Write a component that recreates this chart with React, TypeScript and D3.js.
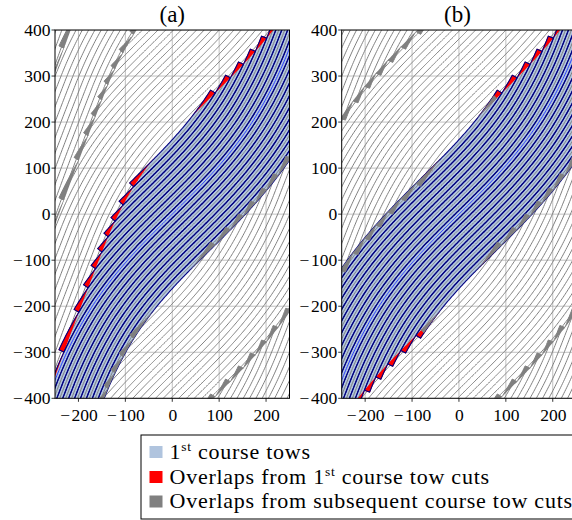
import React from 'react';
import * as d3 from 'd3';

// ---------- data ----------
const panelTitles = ['(a)', '(b)'];
const xTicks = [-200, -100, 0, 100, 200];
const yTicks = [-400, -300, -200, -100, 0, 100, 200, 300, 400];
const xDomain = [-250, 250];
const yDomain = [-400, 400];
// fiber angle (deg, from x axis) of the reference path versus |x|
const angleStations = [0, 50, 100, 150, 200, 250, 300, 350, 460];
const fiberAngleDeg = [45, 46, 49.3, 54.5, 61.8, 69, 69.5, 70.5, 72];
const courseIndices = [-4, -3, -2, -1, 0, 1, 2, 3, 4];
const towsPerCourse = 19;
const towWidth = 11.8;
const courseShift = 330;
// cut rule per panel: 'upper' = tows always cut on the upper-left side, 'sym' = point-symmetric cuts
const cutRules = ['upper', 'sym'];
const legendLabels = [
  ['1', 'st', ' course tows'],
  ['Overlaps from 1', 'st', ' course tow cuts'],
  ['Overlaps from subsequent course tow cuts', '', ''],
];
const legendColors = ['#b0c4de', '#ff0000', '#808080'];

// ---------- layout ----------
const WIDTH = 572;
const HEIGHT = 520;
const panelsPx = [
  { x0: 55, x1: 289.5 },
  { x0: 341.7, x1: 576.2 },
];
const plotTop = 30;
const plotBottom = 398.3;
const FONT = "'Liberation Serif', 'DejaVu Serif', serif";

// ---------- geometry ----------
const STEP = 1;
const XMAX = 460;
const X0 = d3.range(-XMAX, XMAX + 1e-9, STEP);
const N = X0.length;
const IMID = Math.round(XMAX / STEP);
const angleScale = d3.scaleLinear().domain(angleStations).range(fiberAngleDeg).clamp(true);
const TH = X0.map((x) => (angleScale(Math.abs(x)) * Math.PI) / 180);
const F: number[] = new Array(N).fill(0);
for (let i = IMID + 1; i < N; i++) F[i] = F[i - 1] + 0.5 * (Math.tan(TH[i - 1]) + Math.tan(TH[i])) * STEP;
for (let i = IMID - 1; i >= 0; i--) F[i] = F[i + 1] - 0.5 * (Math.tan(TH[i + 1]) + Math.tan(TH[i])) * STEP;
const HALF = (towsPerCourse * towWidth) / 2;

function at(fi: number) {
  const i = Math.max(0, Math.min(N - 2, Math.floor(fi)));
  const t = fi - i;
  return {
    x: X0[i] + t * (X0[i + 1] - X0[i]),
    th: TH[i] + t * (TH[i + 1] - TH[i]),
    f: F[i] + t * (F[i + 1] - F[i]),
  };
}
function pt(fi: number, d: number, k: number): [number, number] {
  const a = at(fi);
  return [a.x - d * Math.sin(a.th), a.f + k * courseShift + d * Math.cos(a.th)];
}
const lowX = X0.map((x, i) => x + HALF * Math.sin(TH[i]));
const lowY = F.map((f, i) => f - HALF * Math.cos(TH[i]));
const upX = X0.map((x, i) => x - HALF * Math.sin(TH[i]));
const upY = F.map((f, i) => f + HALF * Math.cos(TH[i]));
function edgeY(xs: number[], ys: number[], x: number) {
  if (x <= xs[0]) return ys[0];
  if (x >= xs[N - 1]) return ys[N - 1];
  const j = Math.max(0, Math.min(N - 2, d3.bisectRight(xs, x) - 1));
  const t = (x - xs[j]) / (xs[j + 1] - xs[j]);
  return ys[j] + t * (ys[j + 1] - ys[j]);
}
function findEnd(dir: number, g: (i: number) => number) {
  let i = IMID;
  let gp = g(i);
  if (gp <= 0) return IMID;
  for (;;) {
    const ni = i + dir;
    if (ni < 0 || ni >= N) return i;
    const gv = g(ni);
    if (gv <= 0) return i + (dir * gp) / (gp - gv);
    i = ni;
    gp = gv;
  }
}
function idxRange(lo: number, hi: number, step = 2) {
  const arr = [lo];
  for (let i = Math.ceil(lo + 1e-6); i < hi; i += step) arr.push(i);
  arr.push(hi);
  return arr;
}

type Tow = {
  k: number; j: number; lo: number; hi: number; loOut: number; hiOut: number;
  cutHi: boolean; cutLo: boolean;
};

function computeTows(rule: string): Tow[] {
  const tows: Tow[] = [];
  courseIndices.forEach((k) => {
    for (let j = 0; j < towsPerCourse; j++) {
      const d0 = -HALF + j * towWidth;
      const d1 = d0 + towWidth;
      const gUpper = (d: number) => (i: number) => {
        const p = pt(i, d, k);
        return edgeY(lowX, lowY, p[0]) + (k + 1) * courseShift - p[1];
      };
      const gLower = (d: number) => (i: number) => {
        const p = pt(i, d, k);
        return p[1] - (edgeY(upX, upY, p[0]) + (k - 1) * courseShift);
      };
      // 100 % coverage: a tow is cut once it lies completely inside the neighbouring course
      const hi = findEnd(1, gUpper(d0));
      const hiOut = findEnd(1, gUpper(d1));
      const lo = findEnd(-1, rule === 'upper' ? gUpper(d0) : gLower(d1));
      const loOut = findEnd(-1, rule === 'upper' ? gUpper(d1) : gLower(d0));
      tows.push({ k, j, lo, hi, loOut, hiOut, cutHi: hi < N - 1, cutLo: lo > 0 });
    }
  });
  return tows;
}

function visWindow(k: number): [number, number] {
  let a = 0;
  let b = N - 1;
  for (let i = 0; i < N; i++) {
    if (F[i] + k * courseShift > -700) { a = Math.max(0, i - 1); break; }
  }
  for (let i = N - 1; i >= 0; i--) {
    if (F[i] + k * courseShift < 700) { b = Math.min(N - 1, i + 1); break; }
  }
  return [a, b];
}

function TickLabel({ v, x, y, anchor }: { v: number; x: number; y: number; anchor: string }) {
  return (
    <text x={x} y={y} textAnchor={anchor} fontFamily={FONT} fontSize={17.5}>
      {v < 0 ? (
        <>
          <tspan>{'\u2212'}</tspan>
          <tspan dx={1.5}>{Math.abs(v)}</tspan>
        </>
      ) : (
        `${v}`
      )}
    </text>
  );
}

function Panel({ p }: { p: number }) {
  const px = panelsPx[p];
  const xs = d3.scaleLinear().domain(xDomain).range([px.x0, px.x1]);
  const ys = d3.scaleLinear().domain(yDomain).range([plotBottom, plotTop]);
  const cl = (v: number) => Math.max(-4000, Math.min(4000, v));
  const toPx = (q: [number, number]): [number, number] => [cl(xs(q[0])), cl(ys(q[1]))];
  const line = d3.line<[number, number]>();
  const tows = computeTows(cutRules[p]);
  const pre = `p${p}`;

  const towPoly = (t: Tow, lo: number, hi: number) => {
    const d0 = -HALF + t.j * towWidth;
    const d1 = d0 + towWidth;
    const r = idxRange(lo, hi);
    const a = r.map((fi) => toPx(pt(fi, d1, t.k)));
    const b = r.slice().reverse().map((fi) => toPx(pt(fi, d0, t.k)));
    return line(a.concat(b)) + 'Z';
  };
  const centerLine = (t: Tow, lo: number, hi: number) => {
    const dc = -HALF + (t.j + 0.5) * towWidth;
    return line(idxRange(lo, hi).map((fi) => toPx(pt(fi, dc, t.k)))) || '';
  };
  const clampRange = (t: Tow): [number, number] | null => {
    const [a, b] = visWindow(t.k);
    const lo = Math.max(t.lo, a);
    const hi = Math.min(t.hi, b);
    return hi > lo ? [lo, hi] : null;
  };

  const clipAbove = (k: number) => {
    const pts: [number, number][] = [];
    for (let i = 0; i < N; i += 2) pts.push(toPx([lowX[i], lowY[i] + (k + 1) * courseShift]));
    pts.push([pts[pts.length - 1][0], -5000], [pts[0][0], -5000]);
    return line(pts) + 'Z';
  };
  const clipBelow = (k: number) => {
    const pts: [number, number][] = [];
    for (let i = 0; i < N; i += 2) pts.push(toPx([upX[i], upY[i] + (k - 1) * courseShift]));
    pts.push([pts[pts.length - 1][0], 5000], [pts[0][0], 5000]);
    return line(pts) + 'Z';
  };

  const others = tows.filter((t) => t.k !== 0);
  const main = tows.filter((t) => t.k === 0);

  const overlapPieces = (list: Tow[], color: string, sw: number) =>
    list.map((t) => {
      const parts: JSX.Element[] = [];
      if (t.cutHi && t.hi > t.lo) {
        parts.push(
          <path key={`h${t.k}_${t.j}`} d={towPoly(t, Math.max(t.lo, t.hiOut - 1), t.hi)} fill={color}
            stroke={color} strokeWidth={sw} strokeLinejoin="round" clipPath={`url(#${pre}abv${t.k})`} />
        );
      }
      if (t.cutLo && t.hi > t.lo) {
        const cid = cutRules[p] === 'upper' ? `${pre}abv${t.k}` : `${pre}blw${t.k}`;
        parts.push(
          <path key={`l${t.k}_${t.j}`} d={towPoly(t, t.lo, Math.min(t.hi, t.loOut + 1))} fill={color}
            stroke={color} strokeWidth={sw} strokeLinejoin="round" clipPath={`url(#${cid})`} />
        );
      }
      return parts;
    });

  const W = px.x1 - px.x0;
  return (
    <g>
      <defs>
        <clipPath id={`${pre}plot`}>
          <rect x={px.x0} y={plotTop} width={W} height={plotBottom - plotTop} />
        </clipPath>
        {courseIndices.map((k) => (
          <clipPath key={`a${k}`} id={`${pre}abv${k}`}>
            <path d={clipAbove(k)} />
          </clipPath>
        ))}
        {courseIndices.map((k) => (
          <clipPath key={`b${k}`} id={`${pre}blw${k}`}>
            <path d={clipBelow(k)} />
          </clipPath>
        ))}
      </defs>
      <rect x={px.x0} y={plotTop} width={W} height={plotBottom - plotTop} fill="#fff" />
      <g clipPath={`url(#${pre}plot)`}>
        {xTicks.map((v) => (
          <line key={`gx${v}`} x1={xs(v)} x2={xs(v)} y1={plotTop} y2={plotBottom} stroke="#b0b0b0" strokeWidth={0.8} />
        ))}
        {yTicks.map((v) => (
          <line key={`gy${v}`} x1={px.x0} x2={px.x1} y1={ys(v)} y2={ys(v)} stroke="#b0b0b0" strokeWidth={0.8} />
        ))}
        {others.map((t) => {
          const r = clampRange(t);
          if (!r) return null;
          return <path key={`o${t.k}_${t.j}`} d={centerLine(t, r[0], r[1])} fill="none" stroke="#808080" strokeWidth={1} />;
        })}
        {main.map((t) => {
          const r = clampRange(t);
          if (!r) return null;
          return <path key={`mf${t.j}`} d={towPoly(t, r[0], r[1])} fill="#b0c4de" stroke="none" />;
        })}
        {main.map((t) => {
          const r = clampRange(t);
          if (!r) return null;
          const isRef = t.j === (towsPerCourse - 1) / 2;
          return (
            <path key={`mc${t.j}`} d={centerLine(t, r[0], r[1])} fill="none"
              stroke={isRef ? '#2a3cff' : '#808080'} strokeWidth={1} />
          );
        })}
        {overlapPieces(main, '#ff0000', 1)}
        {main.map((t) => {
          const r = clampRange(t);
          if (!r) return null;
          return <path key={`mn${t.j}`} d={towPoly(t, r[0], r[1])} fill="none" stroke="#000080" strokeWidth={1.1} />;
        })}
        {overlapPieces(others, '#808080', 1)}
      </g>
      <rect x={px.x0} y={plotTop} width={W} height={plotBottom - plotTop} fill="none" stroke="#000" strokeWidth={1} />
      {xTicks.map((v) => (
        <g key={`tx${v}`}>
          <line x1={xs(v)} x2={xs(v)} y1={plotBottom} y2={plotBottom + 3.5} stroke="#000" strokeWidth={0.8} />
          <TickLabel v={v} x={xs(v) + 0.5} y={plotBottom + 23} anchor="middle" />
        </g>
      ))}
      {yTicks.map((v) => (
        <g key={`ty${v}`}>
          <line x1={px.x0 - 3.5} x2={px.x0} y1={ys(v)} y2={ys(v)} stroke="#000" strokeWidth={0.8} />
          <TickLabel v={v} x={px.x0 - 4.5} y={ys(v) + 5.8} anchor="end" />
        </g>
      ))}
      <text x={(px.x0 + px.x1) / 2 - (p === 1 ? 1.5 : 0)} y={22} textAnchor="middle" fontFamily={FONT} fontSize={23}>
        {panelTitles[p]}
      </text>
    </g>
  );
}

function Legend() {
  const x = 141;
  const y = 435;
  const rows = [452, 477, 501.5];
  return (
    <g>
      <rect x={x} y={y} width={440} height={84} fill="#fff" stroke="#000" strokeWidth={1} />
      {legendLabels.map((lab, i) => (
        <g key={i}>
          <rect x={149.5} y={rows[i] - 6} width={13} height={12} fill={legendColors[i]} />
          <text x={169.5} y={rows[i] + 6.5} fontFamily={FONT} fontSize={22} letterSpacing={0.75}>
            <tspan>{lab[0]}</tspan>
            {lab[1] ? (
              <tspan dy={-8} fontSize={13.5}>
                {lab[1]}
              </tspan>
            ) : null}
            {lab[2] ? <tspan dy={lab[1] ? 8 : 0}>{lab[2]}</tspan> : null}
          </text>
        </g>
      ))}
    </g>
  );
}

export default function App() {
  return (
    <svg width={WIDTH} height={HEIGHT} style={{ position: 'absolute', left: 0, top: 0, background: '#fff' }}>
      <rect width={WIDTH} height={HEIGHT} fill="#fff" />
      <Panel p={0} />
      <Panel p={1} />
      <Legend />
    </svg>
  );
}
